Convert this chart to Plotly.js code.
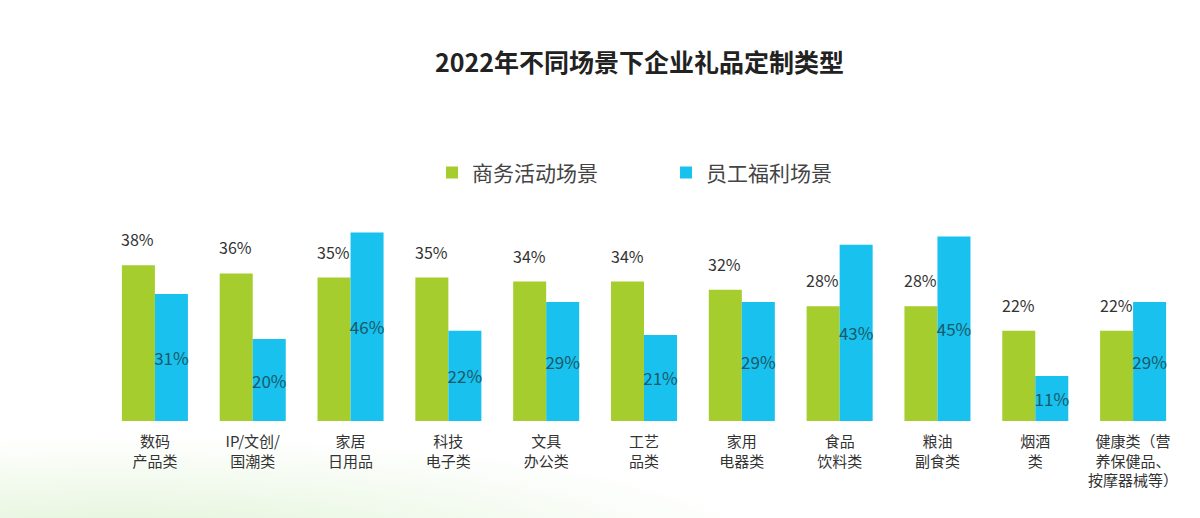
<!DOCTYPE html>
<html><head><meta charset="utf-8">
<script src="https://cdn.plot.ly/plotly-3.0.1.min.js"></script>
<style>
html,body{margin:0;padding:0;width:1200px;height:518px;overflow:hidden;
background: radial-gradient(ellipse 650px 110px at 120px 545px, rgba(195,232,175,0.5), rgba(255,255,255,0) 100%), #ffffff;}
#chart{width:1200px;height:518px;}
</style></head>
<body><div id="chart"></div>
<script>
const categories = ["数码<br>产品类","IP/文创/<br>国潮类","家居<br>日用品","科技<br>电子类","文具<br>办公类","工艺<br>品类","家用<br>电器类","食品<br>饮料类","粮油<br>副食类","烟酒<br>类","健康类（营<br>养保健品、<br>按摩器械等）"];
const businessValues = [38,36,35,35,34,34,32,28,28,22,22];
const employeeValues = [31,20,46,22,29,21,29,43,45,11,29];
const seriesNames = ["商务活动场景","员工福利场景"];

const font = "'Noto Sans CJK SC', 'Noto Sans', sans-serif";

const traces = [
  {type:'bar', name:seriesNames[0], x:categories, y:businessValues,
   marker:{color:'#a5cd2e'}, hoverinfo:'none'},
  {type:'bar', name:seriesNames[1], x:categories, y:employeeValues,
   marker:{color:'#18c1ee'},
   text: employeeValues.map(v=>v+'%'), textposition:'inside', insidetextanchor:'middle', textangle:0,
   constraintext:'none', cliponaxis:false,
   textfont:{family:font, size:17, color:'#185a68'}, hoverinfo:'none'}
];

const annotations = businessValues.map((v,i)=>({
  x:categories[i], y:v, xref:'x', yref:'y', text:v+'%', showarrow:false,
  xshift:-17, yshift:12, yanchor:'bottom', xanchor:'center',
  font:{family:font, size:16, color:'#333'}
}));

const layout = {
  width:1200, height:518,
  paper_bgcolor:'rgba(0,0,0,0)', plot_bgcolor:'rgba(0,0,0,0)',
  margin:{l:106, r:18, t:216, b:97},
  title:{text:'<b>2022年不同场景下企业礼品定制类型</b>', x:0.533, xanchor:'center', y:0.878, yanchor:'middle',
    font:{family:font, size:25, color:'#222'}},
  barmode:'group', bargap:0.325, bargroupgap:0,
  showlegend:true,
  legend:{orientation:'h', x:0.303, xanchor:'left', y:1.21, yanchor:'middle',
    font:{family:font, size:21, color:'#444'}, itemwidth:30, tracegroupgap:0,
    entrywidth:189},
  xaxis:{type:'category', showgrid:false, zeroline:false, showline:false, ticks:'',
    tickfont:{family:font, size:15, color:'#333'}, range:[-0.5,10.5], ticklabelstandoff:10},
  yaxis:{range:[0,50], visible:false, showgrid:false, zeroline:false},
  annotations:annotations,
  font:{family:font}
};

Plotly.newPlot('chart', traces, layout, {displayModeBar:false, staticPlot:true});
</script></body></html>
